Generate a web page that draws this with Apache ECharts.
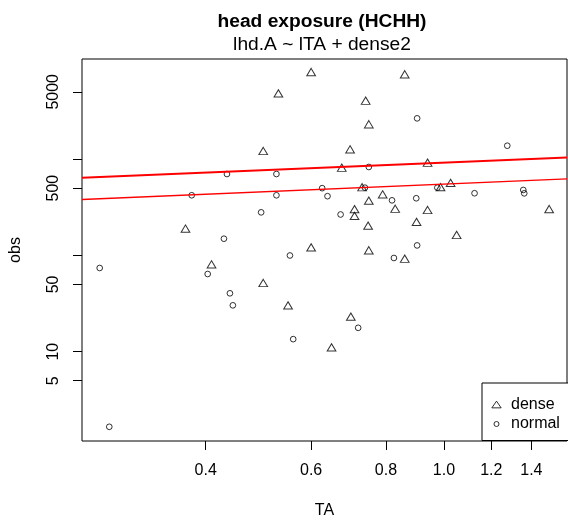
<!DOCTYPE html>
<html><head><meta charset="utf-8">
<script src="https://cdn.jsdelivr.net/npm/echarts@6/dist/echarts.min.js"></script>
<style>html,body{margin:0;padding:0;background:#fff}#c{width:568px;height:521px}</style>
</head><body><div id="c"></div>
<script>
// ---- data ----
const denseTA  = [0.600, 0.529, 0.499, 0.370, 0.600, 0.860, 0.740, 0.749, 0.697, 0.675, 0.939, 0.730, 0.790, 0.749, 0.987, 1.026, 0.709, 0.709, 0.829, 0.939, 1.499, 0.900, 0.747, 1.050, 0.749, 0.409, 0.499, 0.549, 0.860, 0.699, 0.649];
const denseObs = [8020, 4820, 1214, 190, 121, 7600, 4040, 2300, 1264, 814, 917, 510, 431, 370, 511, 567, 302, 257, 305, 296, 303, 223, 204, 163, 113, 80.8, 51.7, 30.3, 92.4, 23.1, 11.1];
const normalTA  = [0.434, 0.525, 0.379, 0.525, 0.495, 0.429, 0.553, 0.902, 1.276, 0.749, 0.626, 0.639, 0.738, 0.819, 0.899, 0.975, 1.125, 1.357, 1.362, 0.672, 0.902, 0.266, 0.403, 0.439, 0.444, 0.560, 0.276, 0.825, 0.719];
const normalObs = [700, 700, 421, 421, 280, 149, 99.8, 2650, 1377, 828, 499, 412, 505, 373, 392, 505, 442, 478, 441, 266, 127, 74.0, 64.1, 40.4, 30.3, 13.5, 1.66, 94.0, 17.7];
// fitted lines (lhd.A ~ lTA + dense2), values at the ends of the x range
const fitTA     = [0.2485, 1.6055];
const fitDense  = [640, 1039];
const fitNormal = [380.6, 624.3];
// axes
const xRange = [0.2485, 1.6055];
const yRange = [1.182, 10952];
const xTicks = [0.4, 0.6, 0.8, 1.0, 1.2, 1.4];
const yTicks = [5, 10, 50, 100, 500, 1000, 5000];
const yTickLabels = [5, 10, 50, 500, 5000];

const L = Math.log10;
const pairs = (xs, ys) => xs.map((x, i) => [L(x), L(ys[i])]);
const FONT = '"Liberation Sans", Arial, Helvetica, sans-serif';

const chart = echarts.init(document.getElementById('c'), null, {renderer: 'canvas'});
chart.setOption({
  animation: false,
  backgroundColor: '#fff',
  textStyle: {fontFamily: FONT, color: '#000'},
  title: [
    {text: 'head exposure (HCHH)', left: 322, top: 12, textAlign: 'center', padding: 0,
     textStyle: {fontFamily: FONT, fontSize: 19.2, fontWeight: 'bold', color: '#000'}},
    {text: 'lhd.A ~ lTA + dense2', left: 322, top: 35.5, textAlign: 'center', padding: 0,
     textStyle: {fontFamily: FONT, fontSize: 19.2, fontWeight: 'normal', color: '#000'}}
  ],
  grid: {left: 82, top: 59, width: 485, height: 382, show: true, borderColor: '#000', borderWidth: 1,
         containLabel: false, outerBoundsMode: 'none'},
  legend: {
    orient: 'vertical', left: 482, top: 383,
    padding: [13.5, 11, 8.5, 9], itemGap: 3.5,
    itemWidth: 19, itemHeight: 10,
    borderColor: '#000', borderWidth: 1, backgroundColor: '#fff',
    itemStyle: {borderWidth: 1},
    textStyle: {fontFamily: FONT, fontSize: 16, color: '#000'},
    data: [
      {name: 'dense', icon: 'path://M0,0M10,10M0.35,8.35L5,1.65L9.65,8.35Z'},
      {name: 'normal', icon: 'path://M0,0M10,10M5,2.5A2.5,2.5,0,1,1,4.99,2.5Z'}
    ]
  },
  xAxis: {
    type: 'value', min: L(xRange[0]), max: L(xRange[1]),
    name: 'TA', nameLocation: 'middle', nameGap: 62,
    nameTextStyle: {fontFamily: FONT, fontSize: 16, color: '#000'},
    axisLine: {show: false, onZero: false},
    splitLine: {show: false},
    axisTick: {show: true, length: 9, customValues: xTicks.map(L), lineStyle: {color: '#000', width: 1}},
    axisLabel: {show: true, margin: 22, fontSize: 16, color: '#000', fontFamily: FONT,
      customValues: xTicks.map(L), formatter: v => Math.pow(10, v).toFixed(1)}
  },
  yAxis: {
    type: 'value', min: L(yRange[0]), max: L(yRange[1]),
    name: 'obs', nameLocation: 'middle', nameGap: 58,
    nameTextStyle: {fontFamily: FONT, fontSize: 16, color: '#000'},
    axisLine: {show: false, onZero: false},
    splitLine: {show: false},
    axisTick: {show: true, length: 9, customValues: yTicks.map(L), lineStyle: {color: '#000', width: 1}},
    axisLabel: {show: true, margin: 20, rotate: 90, fontSize: 16, color: '#000', fontFamily: FONT,
      customValues: yTickLabels.map(L), formatter: v => String(Math.round(Math.pow(10, v)))}
  },
  series: [
    {name: 'dense', type: 'scatter', symbol: 'triangle', symbolSize: [8.7, 7.3],
     itemStyle: {color: 'rgba(0,0,0,0)', borderColor: '#000', borderWidth: 1},
     data: pairs(denseTA, denseObs), silent: true},
    {name: 'normal', type: 'scatter', symbol: 'circle', symbolSize: 5.7,
     itemStyle: {color: 'rgba(0,0,0,0)', borderColor: '#000', borderWidth: 1},
     data: pairs(normalTA, normalObs), silent: true},
    {name: 'fit dense', type: 'line', showSymbol: false, symbol: 'none', silent: true, clip: true,
     lineStyle: {color: '#ff0000', width: 2}, data: pairs(fitTA, fitDense)},
    {name: 'fit normal', type: 'line', showSymbol: false, symbol: 'none', silent: true, clip: true,
     lineStyle: {color: '#ff0000', width: 1.3}, data: pairs(fitTA, fitNormal)}
  ]
});
</script>
</body></html>
